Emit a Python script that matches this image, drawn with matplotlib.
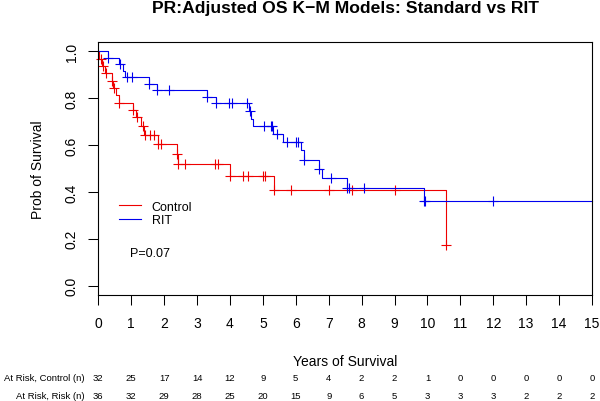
import numpy as np
import matplotlib
matplotlib.use('Agg')
import matplotlib.pyplot as plt
from matplotlib.transforms import blended_transform_factory
from matplotlib.lines import Line2D

plt.rcParams['font.family'] = ['Liberation Sans', 'DejaVu Sans']

# Control arm: drop times (years) and survival after each drop
ctrl_time = [0, 0.03, 0.12, 0.20, 0.41, 0.45, 0.53, 0.64, 1.04, 1.15, 1.30, 1.38,
             1.82, 2.38, 2.42, 4.00, 5.35, 10.55]
ctrl_surv = [1.0, 0.969, 0.938, 0.906, 0.875, 0.844, 0.813, 0.781, 0.750, 0.719,
             0.680, 0.641, 0.605, 0.563, 0.520, 0.470, 0.409, 0.174]
ctrl_cens = [0.08, 0.15, 0.22, 0.42, 0.47, 0.64, 1.04, 1.17, 1.35, 1.42, 1.57, 1.70,
             1.82, 1.92, 2.38, 2.43, 2.63, 3.54, 3.64, 4.00, 4.40, 4.56, 5.01, 5.06,
             5.35, 5.85, 7.02, 7.72, 9.00, 10.55]

# RIT arm
rit_time = [0, 0.30, 0.64, 0.76, 0.81, 1.55, 1.77, 3.31, 3.57, 4.59, 4.64, 4.69,
            5.31, 5.60, 6.16, 6.25, 6.70, 6.81, 7.57, 9.89]
rit_surv = [1.0, 0.972, 0.944, 0.917, 0.889, 0.861, 0.833, 0.806, 0.778, 0.745,
            0.712, 0.681, 0.648, 0.613, 0.577, 0.538, 0.499, 0.459, 0.416, 0.361]
rit_cens = [0.30, 0.66, 0.88, 1.03, 1.55, 1.77, 2.16, 3.31, 3.57, 3.98, 4.07, 4.51,
            4.62, 5.03, 5.24, 5.28, 5.44, 5.72, 6.02, 6.07, 6.25, 6.70, 7.07, 7.57,
            7.61, 8.07, 9.90, 9.94, 12.0]
rit_last = 15.0

years = list(range(16))
risk_ctrl = [32, 25, 17, 14, 12, 9, 5, 4, 2, 2, 1, 0, 0, 0, 0, 0]
risk_rit = [36, 32, 29, 28, 25, 20, 15, 9, 6, 5, 3, 3, 3, 2, 2, 2]

fig = plt.figure(figsize=(6, 4.02), dpi=100)
ax = fig.add_axes([98.3 / 600, 106 / 402, 493.7 / 600, 253 / 402])


def km(ax, t, s, cens, color, last=None):
    t = list(t)
    s = list(s)
    if last is not None:
        t = t + [last]
        s = s + [s[-1]]
    ax.step(t, s, where='post', color=color, lw=0.8, clip_on=False)
    idx = np.searchsorted(t, cens, side='right') - 1
    ax.plot(cens, np.array(s)[idx], ls='none', marker='+', ms=7.5, mew=0.8,
            color=color, clip_on=False)


km(ax, ctrl_time, ctrl_surv, ctrl_cens, '#ee0000')
km(ax, rit_time, rit_surv, rit_cens, '#0000ee', last=rit_last)

ax.set_xlim(0, 15)
ax.set_ylim(-0.04, 1.04)
ax.set_xticks(years)
ax.set_yticks(np.arange(0, 1.01, 0.2))
ax.set_yticklabels(['%.1f' % v for v in np.arange(0, 1.01, 0.2)])
ax.tick_params(direction='out', length=7.2, width=0.75, labelsize=10, color='black')
ax.tick_params(axis='x', pad=8)
ax.tick_params(axis='y', pad=7)
plt.setp(ax.get_yticklabels(), rotation=90, va='center')
for sp in ax.spines.values():
    sp.set_linewidth(0.8)

ax.set_xlabel('Years of Survival', fontsize=10)
ax.xaxis.set_label_coords(0.5, -0.232)
ax.set_ylabel('Prob of Survival', fontsize=10)
ax.yaxis.set_label_coords(-0.108, 0.5)

fig.text(345 / 600, 1 - 13.3 / 402, 'PR:Adjusted OS K\u2212M Models: Standard vs RIT',
         ha='center', va='baseline', fontsize=12.6, weight='bold')

handles = [Line2D([], [], color='#ee0000', lw=0.8), Line2D([], [], color='#0000ee', lw=0.8)]
ax.legend(handles, ['Control', 'RIT'], loc='center left', bbox_to_anchor=(0.0425, 0.323),
          frameon=False, fontsize=9, handlelength=1.7, handletextpad=0.9,
          labelspacing=0.1, borderpad=0, borderaxespad=0)
ax.text(0.96, 0.138, 'P=0.07', fontsize=9, ha='left', va='center')

tr = blended_transform_factory(ax.transData, ax.transAxes)
row_y = [-0.328, -0.399]
for rows, yy, lab in [(risk_ctrl, row_y[0], 'At Risk, Control (n)'),
                      (risk_rit, row_y[1], 'At Risk, Risk (n)')]:
    for x, n in zip(years, rows):
        ax.text(x, yy, str(n), transform=tr, ha='center', va='center', fontsize=6.8,
                clip_on=False)
    ax.text(-0.027, yy, lab, transform=ax.transAxes, ha='right', va='center', fontsize=6.8)

fig.savefig('out.png', dpi=100)
